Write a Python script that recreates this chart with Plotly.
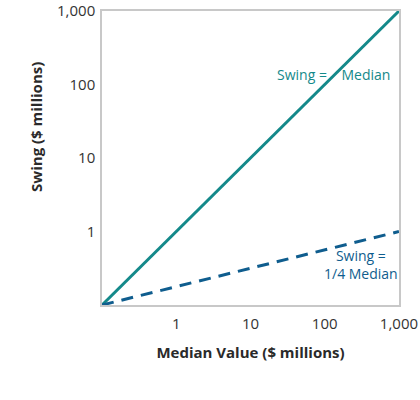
import math
import plotly.graph_objects as go

median_x = [0.1, 1000]
swing_equal = [0.1, 1000]
swing_quarter = [0.1, 1]
tick_vals = [1, 10, 100, 1000]
tick_text = ["1", "10", "100", "1,000"]

teal = "#14898a"
blue = "#0f5d8e"
font = "Open Sans"

fig = go.Figure()
fig.add_trace(go.Scatter(x=median_x, y=swing_equal, mode="lines",
                         line=dict(color=teal, width=3), showlegend=False, cliponaxis=False))
fig.add_trace(go.Scatter(x=median_x, y=swing_quarter, mode="lines",
                         line=dict(color=blue, width=3, dash="12px,8px"), showlegend=False, cliponaxis=False))

fig.add_annotation(x=math.log10(800), y=math.log10(137), xref="x", yref="y", text="Swing =    Median",
                   showarrow=False, xanchor="right", yanchor="middle",
                   font=dict(family=font, size=14, color=teal))
fig.add_annotation(x=math.log10(308), y=math.log10(0.356), xref="x", yref="y", text="Swing =<br>1/4 Median",
                   showarrow=False, xanchor="center", yanchor="middle", align="center",
                   font=dict(family=font, size=14, color=blue))
fig.add_annotation(x=-0.222, y=0.606, xref="paper", yref="paper", text="<b>Swing ($ millions)</b>",
                   showarrow=False, textangle=-90, xanchor="center", yanchor="middle",
                   font=dict(family=font, size=15, color="#2a2a2a"))

axis_common = dict(type="log", showgrid=False, zeroline=False, automargin=False,
                   showline=True, linecolor="#c8c8c8", linewidth=1.5, mirror=True,
                   ticks="", tickvals=tick_vals, ticktext=tick_text, ticklabeloverflow="allow",
                   tickfont=dict(family=font, size=15, color="#333333"))

fig.update_xaxes(range=[-1, 3.0005], title=dict(text="<b>Median Value ($ millions)</b>",
                 font=dict(family=font, size=15, color="#2a2a2a"), standoff=16),
                 ticklabelstandoff=4, **axis_common)
fig.update_yaxes(range=[-1, 3.0005], ticklabelstandoff=2, **axis_common)

fig.update_layout(width=420, height=400, margin=dict(l=102, r=21, t=11, b=95),
                  plot_bgcolor="white", paper_bgcolor="white")

fig.write_html("out.html")
